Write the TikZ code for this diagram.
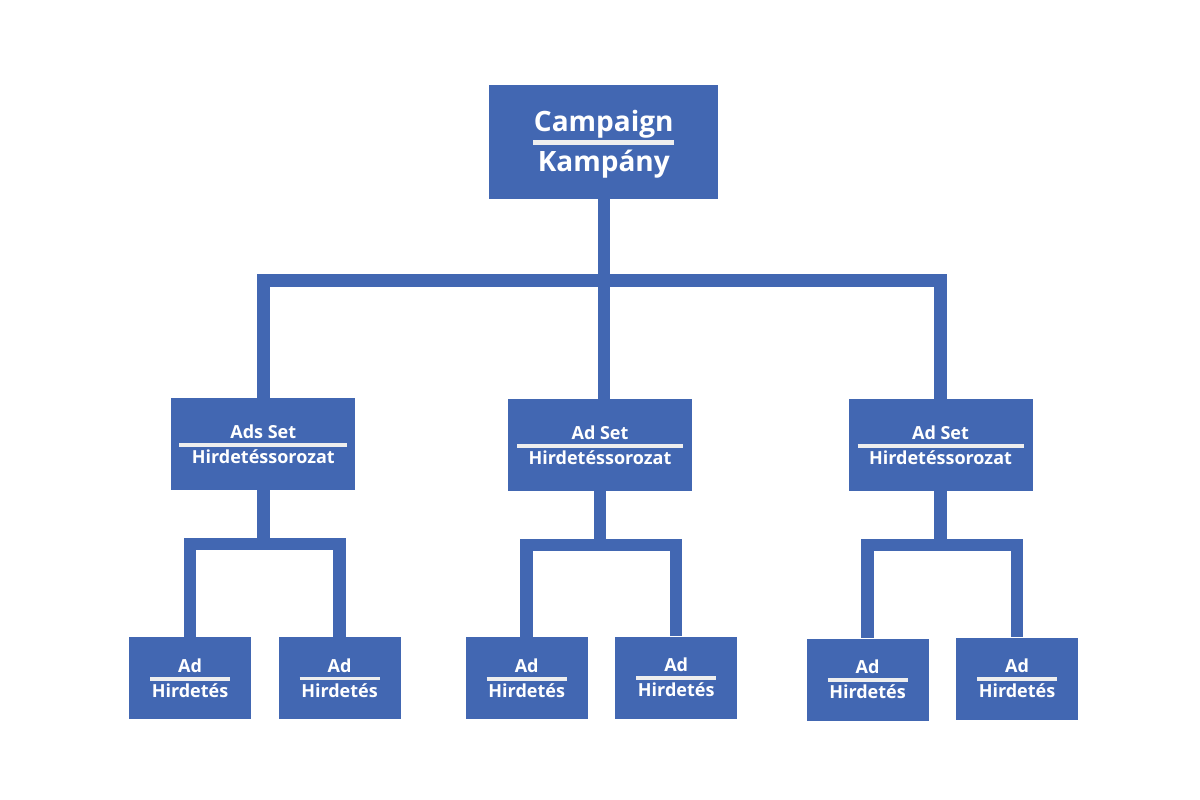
\documentclass[tikz,border=0pt]{standalone}
\usepackage{fontspec}
\setmainfont{Open Sans}
\usepackage{tikz}

\definecolor{fbblue}{HTML}{4267B2}
\definecolor{rulegray}{HTML}{EEEEEE}
% top line, bottom line, rule width, rule thickness, gaps
\newcommand{\lbl}[6]{#1\\[-#6]\textcolor{rulegray}{\rule{#3}{#4}}\\[-#5]#2}

\begin{document}
\begin{tikzpicture}[x=1pt,y=-1pt,
    box/.style={fill=fbblue,text=white,align=center,inner sep=0pt},
    campbox/.style={box,minimum width=229pt,minimum height=114pt,font=\bfseries\fontsize{28}{40}\selectfont},
    setbox/.style={box,minimum width=184pt,minimum height=92pt,font=\bfseries\fontsize{18}{24.7}\selectfont},
    adbox/.style={box,minimum width=122pt,minimum height=82pt,font=\bfseries\fontsize{18}{25}\selectfont},
    link/.style={draw=fbblue,line width=12.5pt,line join=miter}]
    \useasboundingbox[fill=white] (0,0) rectangle (1200,800);

    \node[campbox] (c) at (603.8,142) {\lbl{\rule{0pt}{26pt}Campaign}{Kampány}{141pt}{5pt}{13.3pt}{26.7pt}};

    \node[setbox] (s1) at (263.3,444) {\lbl{Ads Set}{Hirdetéssorozat}{168pt}{3.5pt}{8.2pt}{16.5pt}};
    \node[setbox] (s2) at (600,445) {\lbl{Ad Set}{Hirdetéssorozat}{166pt}{3.5pt}{8.2pt}{16.5pt}};
    \node[setbox] (s3) at (940.5,445) {\lbl{Ad Set}{Hirdetéssorozat}{166pt}{3.5pt}{8.2pt}{16.5pt}};

    \foreach \n/\x/\y in {11/190/678.4, 12/339.5/677.8, 21/526.7/678.3,
                          22/676.2/677.5, 31/867.5/679.5, 32/1017/678.5}
        \node[adbox] (a\n) at (\x,\y) {\lbl{Ad}{Hirdetés}{80pt}{3.4pt}{8pt}{17pt}};

    \coordinate (bus) at ([yshift=-81.5pt]c.south);
    \draw[link] (c.south) -- (bus);
    \draw[link] (bus) -| (s1.north);
    \draw[link] (bus) -| (s3.north);
    \draw[link] (bus) -- (bus |- s2.north);

    \foreach \s in {1,2,3} {
        \coordinate (j\s) at ([yshift=-54pt]s\s.south);
        \draw[link] (s\s.south) -- (j\s);
        \draw[link] (j\s) -| (a\s1.north);
        \draw[link] (j\s) -| (a\s2.north);
    }
\end{tikzpicture}
\end{document}
